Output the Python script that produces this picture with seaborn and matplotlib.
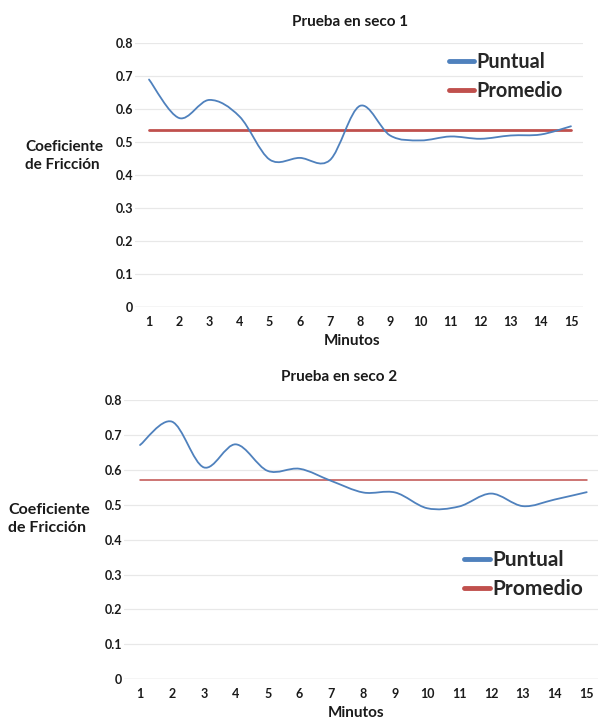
import matplotlib
matplotlib.use("Agg")
import matplotlib.pyplot as plt
from matplotlib.path import Path
from matplotlib.patches import PathPatch
from matplotlib.lines import Line2D
import numpy as np
import pandas as pd
import seaborn as sns

# Friction test readings, one per minute
minutos = list(range(1, 16))
puntual_1 = [0.690, 0.573, 0.628, 0.578, 0.447, 0.452, 0.445, 0.610, 0.520,
             0.505, 0.517, 0.510, 0.520, 0.523, 0.548]
puntual_2 = [0.671, 0.738, 0.607, 0.673, 0.597, 0.603, 0.568, 0.535, 0.535,
             0.490, 0.495, 0.532, 0.496, 0.515, 0.536]
promedio_1 = 0.538
promedio_2 = 0.572

titulos = ["Prueba en seco 1", "Prueba en seco 2"]
y_ticks = [0, 0.1, 0.2, 0.3, 0.4, 0.5, 0.6, 0.7, 0.8]
y_tick_labels = ["0", "0.1", "0.2", "0.3", "0.4", "0.5", "0.6", "0.7", "0.8"]

AZUL = "#4F81BD"
ROJO = "#C0504D"
W, H = 598, 721

sns.set_theme(style="whitegrid")
plt.rcParams["font.family"] = ["Lato", "DejaVu Sans"]
plt.rcParams["font.weight"] = "bold"


def smooth_path(xs, ys):
    """Cubic Bezier path through the points (Catmull-Rom style smoothing)."""
    pts = np.column_stack([xs, ys]).astype(float)
    n = len(pts)
    verts = [pts[0]]
    codes = [Path.MOVETO]
    for i in range(n - 1):
        p0 = pts[i - 1] if i > 0 else pts[i]
        p1 = pts[i]
        p2 = pts[i + 1]
        p3 = pts[i + 2] if i + 2 < n else pts[i + 1]
        c1 = p1 + (p2 - p0) / 6.0
        c2 = p2 - (p3 - p1) / 6.0
        verts += [c1, c2, p2]
        codes += [Path.CURVE4] * 3
    return Path(verts, codes)


def fx(x):
    return x / W


def fy(y):
    return 1 - y / H


fig = plt.figure(figsize=(W / 100, H / 100), dpi=100)
fig.patch.set_facecolor("white")

paneles = [
    dict(rect=[135 / W, 1 - 306.7 / H, 448 / W, 263.4 / H], xlim=(0.535, 15.40),
         puntual=puntual_1, promedio=promedio_1, prom_lw=2.0,
         title_xy=(350, 22), xlab_xy=(352, 341), ylab_xy=(25, 156),
         leg_xy=(449, 76.5), leg_fs=14.3, ylab_fs=11.0),
    dict(rect=[124 / W, 1 - 679.3 / H, 474 / W, 279.3 / H], xlim=(0.498, 15.354),
         puntual=puntual_2, promedio=promedio_2, prom_lw=1.1,
         title_xy=(339, 377), xlab_xy=(356, 713), ylab_xy=(8, 519),
         leg_xy=(464, 574.5), leg_fs=15.0, ylab_fs=11.5),
]

for titulo, p in zip(titulos, paneles):
    ax = fig.add_axes(p["rect"])
    df = pd.DataFrame({"Minutos": minutos, "Puntual": p["puntual"]})

    # average line across the full range of minutes
    prom_df = pd.DataFrame({"Minutos": [minutos[0], minutos[-1]],
                            "Promedio": [p["promedio"]] * 2})
    sns.lineplot(data=prom_df, x="Minutos", y="Promedio", ax=ax,
                 color=ROJO, linewidth=p["prom_lw"], zorder=2)

    # smoothed point-reading curve
    ax.add_patch(PathPatch(smooth_path(df["Minutos"], df["Puntual"]),
                           facecolor="none", edgecolor=AZUL, linewidth=1.3,
                           zorder=3, capstyle="round"))

    ax.set_xlim(*p["xlim"])
    ax.set_ylim(0, 0.8)
    ax.set_xticks(minutos)
    ax.set_xticklabels([str(m) for m in minutos], fontsize=9, fontweight="bold")
    ax.set_yticks(y_ticks)
    ax.set_yticklabels(y_tick_labels, fontsize=9, fontweight="bold")
    ax.tick_params(axis="both", length=0, colors="#1a1a1a")
    ax.tick_params(axis="x", pad=6.5)
    ax.tick_params(axis="y", pad=1.5)
    ax.grid(axis="x", visible=False)
    ax.grid(axis="y", color="#E8E8E8", linewidth=0.9)
    ax.set_facecolor("white")
    for s in ax.spines.values():
        s.set_visible(False)
    ax.axhline(0, color="#D9D9D9", linewidth=1.0, zorder=1)
    ax.set_xlabel("")
    ax.set_ylabel("")

    fig.text(fx(p["title_xy"][0]), fy(p["title_xy"][1]), titulo,
             ha="center", va="center", fontsize=11, fontweight="bold",
             color="#1a1a1a")
    fig.text(fx(p["xlab_xy"][0]), fy(p["xlab_xy"][1]), "Minutos",
             ha="center", va="center", fontsize=11, fontweight="bold",
             color="#1a1a1a")
    fig.text(fx(p["ylab_xy"][0]), fy(p["ylab_xy"][1]), "Coeficiente\nde Fricción",
             ha="left", va="center", fontsize=p["ylab_fs"], fontweight="bold",
             color="#1a1a1a", linespacing=1.45)

    handles = [Line2D([], [], color=AZUL, linewidth=3.5),
               Line2D([], [], color=ROJO, linewidth=3.5)]
    fig.legend(handles, ["Puntual", "Promedio"], loc="center left",
               bbox_to_anchor=(fx(p["leg_xy"][0]), fy(p["leg_xy"][1])),
               frameon=False, borderpad=0, borderaxespad=0,
               handlelength=1.25, handletextpad=0.12, labelspacing=0.45,
               prop={"size": p["leg_fs"], "weight": "bold", "family": ["Lato"]})

fig.savefig("out.png", dpi=100, facecolor="white")
